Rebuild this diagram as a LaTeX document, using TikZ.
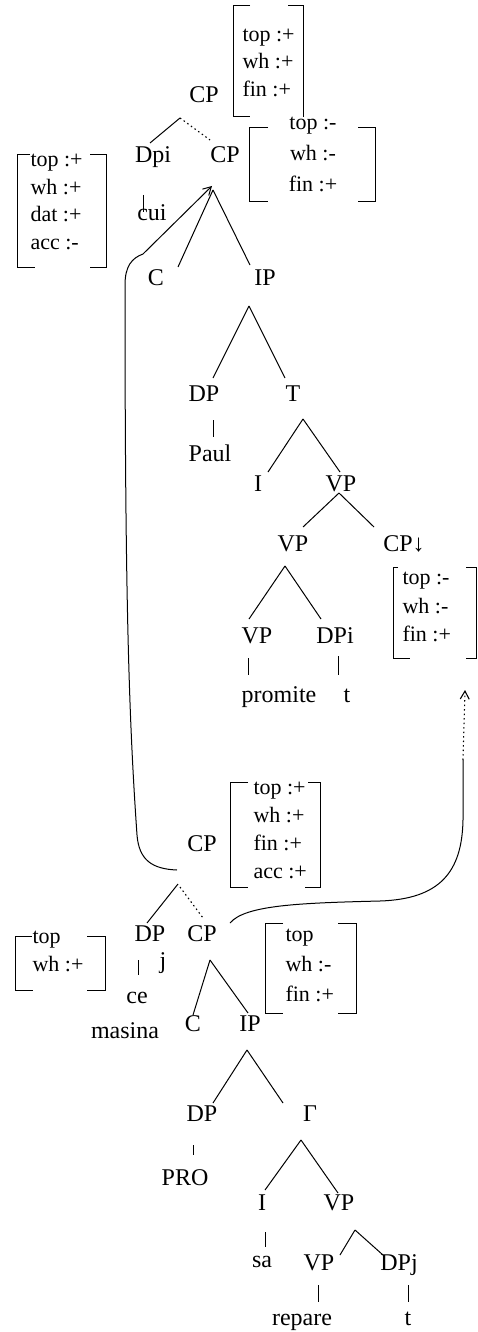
\documentclass[tikz,border=0pt]{standalone}
\usepackage{fontspec}
\setmainfont{Liberation Serif}
\usetikzlibrary{arrows.meta,calc}
\begin{document}
\begin{tikzpicture}[x=1pt,y=-1pt,line width=1pt,
  lab/.style={font=\fontsize{24}{28}\selectfont, inner sep=0pt, text height=16pt, text depth=0pt, anchor=center},
  wd/.style={lab, text height=11pt},
  ft/.style={font=\fontsize{22}{26}\selectfont, inner sep=0pt, text height=13pt, text depth=0pt, anchor=west},
  edge/.style={line width=1pt},
  dotline/.style={line width=1.1pt, dash pattern=on 1.5pt off 3pt},
  bar/.style={line width=1pt},
  brk/.style={line width=1pt},
  mv/.style={line width=1pt, -{Straight Barb[length=8pt,width=9pt]}}
]
\useasboundingbox (0,0) rectangle (477,1332);

% ---------- upper tree ----------
\node[lab] (cpT) at (204,95) {CP};
\node[lab] (dpi) at (153,155) {Dpi};
\node[lab] (cp2) at (225,155) {CP};
\node[wd]  (cui) at (152,215) {cui};
\node[lab] (cT)  at (156,277) {C};
\node[lab] (ipT) at (265,277) {IP};
\node[lab] (dpT) at (204,393) {DP};
\node[lab] (tT)  at (293,393) {T};
\node[lab] (paul) at (210,453) {Paul};
\node[lab] (iT)  at (258,483) {I};
\node[lab] (vp1) at (341,483) {VP};
\node[lab] (vp2) at (293,543) {VP};
\node[lab] (cpd) at (404,543) {CP↓};
\node[lab] (vp3) at (257,635) {VP};
\node[lab] (dpi2) at (335,635) {DPi};
\node[wd]  (promite) at (279,697) {promite};
\node[wd]  (tr1) at (347,697) {t};

\coordinate (aT1) at (180,118);
\coordinate (aT2) at (213,190);
\coordinate (aT3) at (249,306);
\coordinate (aT4) at (303,419);
\coordinate (aT5) at (339,493);
\coordinate (aT6) at (285,566);

\draw[edge] (aT1) -- ([xshift=-3pt,yshift=12pt]dpi.center);
\draw[dotline] (aT1) -- ([xshift=-15pt,yshift=15pt]cp2.center);
\draw[edge] (aT2) -- ([xshift=22pt,yshift=10pt]cT.center);
\draw[edge] (aT2) -- ([xshift=-15pt,yshift=12pt]ipT.center);
\draw[edge] (aT3) -- ([xshift=9pt,yshift=15pt]dpT.center);
\draw[edge] (aT3) -- ([xshift=-8pt,yshift=15pt]tT.center);
\draw[edge] (aT4) -- ([xshift=10pt,yshift=11pt]iT.center);
\draw[edge] (aT4) -- ([xshift=-1pt,yshift=11pt]vp1.center);
\draw[edge] (aT5) -- ([xshift=10pt,yshift=16pt]vp2.center);
\draw[edge] (aT5) -- ([xshift=-30pt,yshift=16pt]cpd.center);
\draw[edge] (aT6) -- ([xshift=-8pt,yshift=16pt]vp3.center);
\draw[edge] (aT6) -- ([xshift=-14pt,yshift=16pt]dpi2.center);

\draw[bar] ([xshift=-10pt,yshift=-40pt]dpi.center) -- ([xshift=-9pt,yshift=3pt]cui.center);
\draw[bar] ([xshift=9pt,yshift=-27pt]dpT.center) -- ([xshift=3pt,yshift=16pt]paul.center);
\draw[bar] ([xshift=-9pt,yshift=-23pt]vp3.center) -- ([xshift=-31pt,yshift=22pt]promite.center);
\draw[bar] ([xshift=3pt,yshift=-21pt]dpi2.center) -- ([xshift=-9pt,yshift=22pt]tr1.center);

% ---------- lower tree ----------
\node[lab] (cpB)  at (202,843) {CP};
\node[lab] (dpB)  at (150,933) {DP};
\node[lab] (cpB2) at (202,933) {CP};
\node[wd]  (jB)   at (163,963) {j};
\node[wd]  (ce)   at (137,998) {ce};
\node[wd]  (masina) at (125,1033) {masina};
\node[lab] (cB)   at (193,1023) {C};
\node[lab] (ipB)  at (250,1023) {IP};
\node[lab] (dpB2) at (202,1113) {DP};
\node[lab] (gB)   at (310,1113) {Γ};
\node[lab] (pro)  at (185,1177) {PRO};
\node[lab] (iB)   at (262,1202) {I};
\node[lab] (vpB)  at (339,1202) {VP};
\node[wd]  (sa)   at (262,1262) {sa};
\node[lab] (vpB2) at (319,1262) {VP};
\node[lab] (dpj)  at (399,1262) {DPj};
\node[wd]  (repare) at (302,1320) {repare};
\node[wd]  (tB)   at (408,1320) {t};

\coordinate (aB1) at (178,884);
\coordinate (aB2) at (210,960);
\coordinate (aB3) at (247,1050);
\coordinate (aB4) at (301,1140);
\coordinate (aB5) at (355,1230);

\draw[edge] (aB1) -- ([xshift=-3pt,yshift=10pt]dpB.center);
\draw[dotline] ([xshift=2pt,yshift=-3pt]aB1) -- ([xshift=1pt,yshift=15pt]cpB2.center);
\draw[edge] (aB2) -- ([xshift=0pt,yshift=8pt]cB.center);
\draw[edge] (aB2) -- ([xshift=-2pt,yshift=10pt]ipB.center);
\draw[edge] (aB3) -- ([xshift=11pt,yshift=10pt]dpB2.center);
\draw[edge] (aB3) -- ([xshift=-27pt,yshift=10pt]gB.center);
\draw[edge] (aB4) -- ([xshift=3pt,yshift=12pt]iB.center);
\draw[edge] (aB4) -- ([xshift=-1pt,yshift=9pt]vpB.center);
\draw[edge] (aB5) -- ([xshift=21pt,yshift=7pt]vpB2.center);
\draw[edge] (aB5) -- ([xshift=-16pt,yshift=7pt]dpj.center);

\draw[bar] ([xshift=-12pt,yshift=-27pt]dpB.center) -- ([xshift=1pt,yshift=23pt]ce.center);
\draw[bar] ([xshift=-9pt,yshift=-32pt]dpB2.center) -- ([xshift=8pt,yshift=22pt]pro.center);
\draw[bar] ([xshift=3pt,yshift=-30pt]iB.center) -- ([xshift=3pt,yshift=15pt]sa.center);
\draw[bar] ([xshift=-1pt,yshift=-23pt]vpB2.center) -- ([xshift=16pt,yshift=18pt]repare.center);
\draw[bar] ([xshift=9pt,yshift=-23pt]dpj.center) -- ([xshift=0pt,yshift=18pt]tB.center);

% ---------- feature brackets ----------
\draw[brk] (250,6) -- (233,6) -- (233,117) -- (250,117);
\draw[brk] (288,6) -- (303,6) -- (303,117);
\foreach \s [count=\i] in {top :+,wh :+,fin :+}
  \node[ft] (fA\i) at (242,{35+27.5*(\i-1)}) {\s};

\draw[brk] (268,128) -- (249,128) -- (249,202) -- (268,202);
\draw[brk] (358,128) -- (375,128) -- (375,202) -- (358,202);
\foreach \s [count=\i] in {top :-,wh :-,fin :+}
  \node[ft,anchor=center] (fB\i) at (313,{123+31*(\i-1)}) {\s};

\draw[brk] (30,155) -- (17,155) -- (17,267) -- (35,267);
\draw[brk] (90,155) -- (106,155) -- (106,267) -- (90,267);
\foreach \s [count=\i] in {top :+,wh :+,dat :+,acc :-}
  \node[ft] (fC\i) at (30,{160+27.7*(\i-1)}) {\s};

\draw[brk] (398,567) -- (393,567) -- (393,658) -- (410,658);
\draw[brk] (466,567) -- (476,567) -- (476,658) -- (466,658);
\foreach \s [count=\i] in {top :-,wh :-,fin :+}
  \node[ft] (fD\i) at (402,{578+28.5*(\i-1)}) {\s};

\draw[brk] (248,782) -- (230,782) -- (230,887) -- (248,887);
\draw[brk] (308,782) -- (320,782) -- (320,887) -- (305,887);
\foreach \s [count=\i] in {top :+,wh :+,fin :+,acc :+}
  \node[ft] (fE\i) at (253,{788+28*(\i-1)}) {\s};

\draw[brk] (32,936) -- (15,936) -- (15,990) -- (33,990);
\draw[brk] (87,936) -- (105,936) -- (105,990) -- (87,990);
\foreach \s [count=\i] in {top,wh :+}
  \node[ft] (fF\i) at (32,{937+28*(\i-1)}) {\s};

\draw[brk] (283,923) -- (265,923) -- (265,1013) -- (283,1013);
\draw[brk] (338,923) -- (356,923) -- (356,1013) -- (338,1013);
\foreach \s [count=\i] in {top,wh :-,fin :+}
  \node[ft] (fG\i) at (285,{935+30*(\i-1)}) {\s};

% ---------- movement arrows ----------
\coordinate (mvL) at (177,870);
\draw[mv] (mvL) .. controls (152,869) and (139,860) .. (137,835)
  .. controls (129,720) and (125,600) .. (125,285)
  .. controls (125,266) and (132,258) .. (143,254)
  -- ([xshift=-13pt,yshift=-31pt]cp2.center);

\coordinate (mvR) at (230,923);
\coordinate (mvRmid) at (463,760);
\coordinate (mvRtip) at (465,690);
\draw[edge] (mvR) .. controls (245,905) and (300,903) .. (380,901)
  .. controls (440,899) and (462,872) .. (463,820) -- (mvRmid);
\draw[mv,dotline] (mvRmid) -- (mvRtip);
\end{tikzpicture}
\end{document}
